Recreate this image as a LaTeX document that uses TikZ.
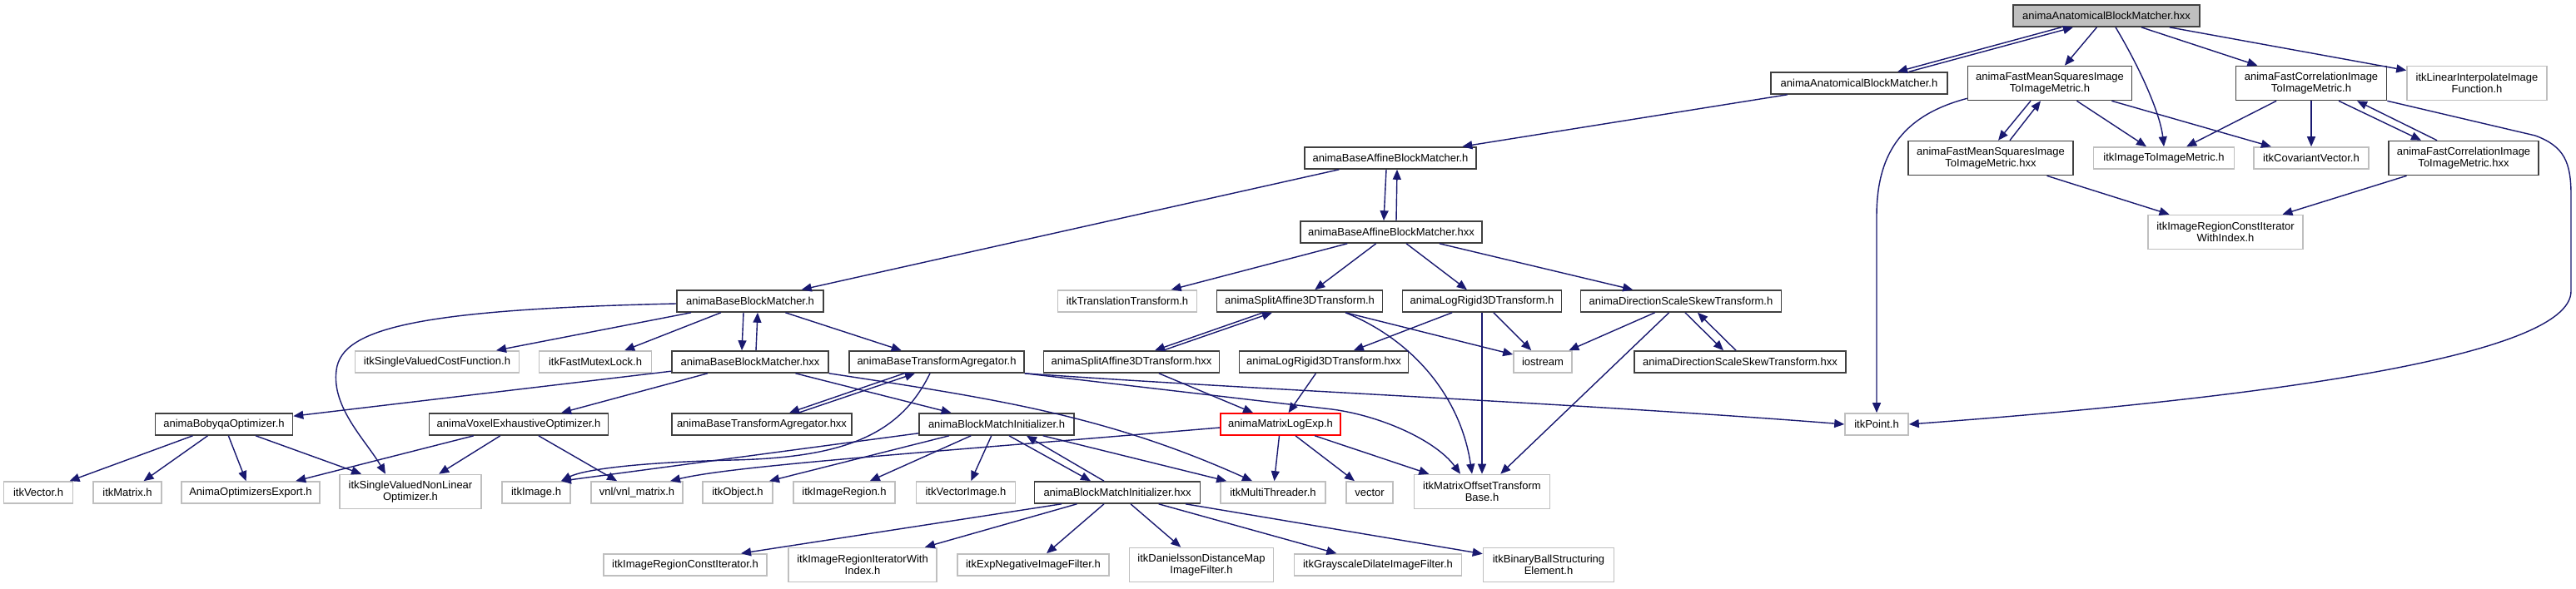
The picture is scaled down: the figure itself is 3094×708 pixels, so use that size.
\documentclass[tikz,border=0pt]{standalone}
\usepackage{fontspec}
\setmainfont{Liberation Sans}
\usetikzlibrary{arrows.meta}
\definecolor{edgec}{HTML}{191970}
\definecolor{gborder}{HTML}{BFBFBF}
\definecolor{dborder}{HTML}{404040}
\begin{document}
\begin{tikzpicture}[x=1pt,y=-1pt,
  base/.style={rectangle, inner sep=0pt, font=\fontsize{13}{14}\selectfont, align=center, line width=1.6pt},
  doc/.style={base, draw=dborder, fill=white},
  undoc/.style={base, draw=gborder, fill=white},
  trunc/.style={base, draw=red, fill=white},
  root/.style={base, draw=dborder, fill=gborder},
  sz/.style 2 args={minimum width=#1pt, minimum height=#2pt},
  dep/.style={draw=edgec, line width=1.4pt, -{Triangle[length=12pt,width=10pt]}},
]
\fill[white] (0,0) rectangle (3094,708);
\useasboundingbox (0,0) rectangle (3094,708);

% nodes
\node[root,sz={224}{26}] (T) at (2530,19) {animaAnatomicalBlockMatcher.hxx};
\node[doc,sz={212}{26}] (A) at (2233,100) {animaAnatomicalBlockMatcher.h};
\node[doc,sz={197}{41}] (FMSh) at (2462,100) {animaFastMeanSquaresImage\\ToImageMetric.h};
\node[doc,sz={181}{41}] (FCh) at (2776,100) {animaFastCorrelationImage\\ToImageMetric.h};
\node[undoc,sz={168}{41}] (LIF) at (2975,100) {itkLinearInterpolateImage\\Function.h};
\node[doc,sz={198}{41}] (FMShxx) at (2391,190) {animaFastMeanSquaresImage\\ToImageMetric.hxx};
\node[undoc,sz={169}{26}] (ITIM) at (2599,190) {itkImageToImageMetric.h};
\node[undoc,sz={138}{26}] (CV) at (2776,190) {itkCovariantVector.h};
\node[doc,sz={180}{41}] (FChxx) at (2959,190) {animaFastCorrelationImage\\ToImageMetric.hxx};
\node[undoc,sz={186}{41}] (IRCIWI) at (2673,279) {itkImageRegionConstIterator\\WithIndex.h};
\node[doc,sz={206}{26}] (BAh) at (1670,190) {animaBaseAffineBlockMatcher.h};
\node[doc,sz={218}{26}] (BAhxx) at (1671,279) {animaBaseAffineBlockMatcher.hxx};
\node[doc,sz={176}{26}] (BBh) at (901,362) {animaBaseBlockMatcher.h};
\node[undoc,sz={167}{26}] (TT) at (1354,362) {itkTranslationTransform.h};
\node[doc,sz={199}{26}] (SAh) at (1561,362) {animaSplitAffine3DTransform.h};
\node[doc,sz={191}{26}] (LRh) at (1780,362) {animaLogRigid3DTransform.h};
\node[doc,sz={241}{26}] (DSSh) at (2019,362) {animaDirectionScaleSkewTransform.h};
\node[undoc,sz={197}{26}] (SCF) at (525,435) {itkSingleValuedCostFunction.h};
\node[undoc,sz={135}{26}] (FML) at (715,435) {itkFastMutexLock.h};
\node[doc,sz={188}{26}] (BBhxx) at (901,435) {animaBaseBlockMatcher.hxx};
\node[doc,sz={210}{26}] (BTAh) at (1125,435) {animaBaseTransformAgregator.h};
\node[doc,sz={211}{26}] (SAhxx) at (1359,435) {animaSplitAffine3DTransform.hxx};
\node[doc,sz={203}{26}] (LRhxx) at (1590,435) {animaLogRigid3DTransform.hxx};
\node[undoc,sz={70}{26}] (IOS) at (1853,435) {iostream};
\node[doc,sz={254}{26}] (DSShxx) at (2090,435) {animaDirectionScaleSkewTransform.hxx};
\node[doc,sz={165}{26}] (BOh) at (269,510) {animaBobyqaOptimizer.h};
\node[doc,sz={215}{26}] (VEOh) at (623,510) {animaVoxelExhaustiveOptimizer.h};
\node[doc,sz={216}{26}] (BTAhxx) at (915,510) {animaBaseTransformAgregator.hxx};
\node[doc,sz={186}{26}] (BMIh) at (1197,510) {animaBlockMatchInitializer.h};
\node[trunc,sz={144}{26}] (MLE) at (1538,510) {animaMatrixLogExp.h};
\node[undoc,sz={76}{26}] (ITP) at (2254,510) {itkPoint.h};
\node[undoc,sz={83}{26}] (VEC) at (46,592) {itkVector.h};
\node[undoc,sz={82}{26}] (MAT) at (153,592) {itkMatrix.h};
\node[undoc,sz={166}{26}] (AOE) at (301,592) {AnimaOptimizersExport.h};
\node[undoc,sz={170}{41}] (SVNLO) at (493,591) {itkSingleValuedNonLinear\\Optimizer.h};
\node[undoc,sz={82}{26}] (IMG) at (644,592) {itkImage.h};
\node[undoc,sz={110}{26}] (VNL) at (765,592) {vnl/vnl\_matrix.h};
\node[undoc,sz={84}{26}] (OBJ) at (886,592) {itkObject.h};
\node[undoc,sz={122}{26}] (IR) at (1014,592) {itkImageRegion.h};
\node[undoc,sz={119}{26}] (VI) at (1160,592) {itkVectorImage.h};
\node[doc,sz={199}{26}] (BMIhxx) at (1342,592) {animaBlockMatchInitializer.hxx};
\node[undoc,sz={126}{26}] (MT) at (1529,592) {itkMultiThreader.h};
\node[undoc,sz={56}{26}] (VECT) at (1645,592) {vector};
\node[undoc,sz={163}{41}] (MOTB) at (1780,591) {itkMatrixOffsetTransform\\Base.h};
\node[undoc,sz={196}{26}] (IRCI) at (823,679) {itkImageRegionConstIterator.h};
\node[undoc,sz={178}{41}] (IRIWI) at (1036,679) {itkImageRegionIteratorWith\\Index.h};
\node[undoc,sz={182}{26}] (ENIF) at (1241,679) {itkExpNegativeImageFilter.h};
\node[undoc,sz={173}{41}] (DDMIF) at (1443,679) {itkDanielssonDistanceMap\\ImageFilter.h};
\node[undoc,sz={201}{26}] (GDIF) at (1655,679) {itkGrayscaleDilateImageFilter.h};
\node[undoc,sz={157}{41}] (BBSE) at (1860,679) {itkBinaryBallStructuring\\Element.h};

% edges from root
\draw[dep] ([xshift=-54pt]T.south) -- ([xshift=46pt]A.north);
\draw[dep] ([xshift=60pt]A.north) -- ([xshift=-40pt]T.south);
\draw[dep] (T) -- (FMSh);
\draw[dep] ([xshift=11pt]T.south) .. controls (2575,90) and (2595,140) .. (ITIM.north);
\draw[dep] (T) -- (FCh);
\draw[dep] (T) -- (LIF);

% FastMeanSquares
\draw[dep] ([xshift=-23pt]FMSh.south) -- ([xshift=9pt]FMShxx.north);
\draw[dep] ([xshift=23pt]FMShxx.north) -- ([xshift=-11pt]FMSh.south);
\draw[dep] (FMSh) -- (ITIM);
\draw[dep] (FMSh) -- (CV);
\draw[dep] ([yshift=3pt]FMSh.south west) .. controls (2280,140) and (2254,190) .. (2254,260) -- (ITP.north);
\draw[dep] (FMShxx) -- (IRCIWI);

% FastCorrelation
\draw[dep] (FCh) -- (ITIM);
\draw[dep] (FCh) -- (CV);
\draw[dep] ([xshift=33pt]FCh.south) -- ([xshift=-51pt]FChxx.north);
\draw[dep] ([xshift=-32pt]FChxx.north) -- ([xshift=55pt]FCh.south);
\draw[dep] (FCh.south east) -- (3045,163) .. controls (3080,176) and (3088,195) .. (3088,235) -- (3088,350) .. controls (3088,430) and (2700,480) .. (ITP.east);
\draw[dep] (FChxx) -- (IRCIWI);

% anatomical / base affine
\draw[dep] (A) -- (BAh);
\draw[dep] ([xshift=-5pt]BAh.south) -- ([xshift=-9pt]BAhxx.north);
\draw[dep] ([xshift=6pt]BAhxx.north) -- ([xshift=8pt]BAh.south);
\draw[dep] (BAh) -- (BBh);
\draw[dep] (BAhxx) -- (TT);
\draw[dep] (BAhxx) -- (SAh);
\draw[dep] (BAhxx) -- (LRh);
\draw[dep] (BAhxx) -- (DSSh);

% base block matcher
\draw[dep] ([xshift=-8pt]BBh.south) -- ([xshift=-10pt]BBhxx.north);
\draw[dep] ([xshift=7pt]BBhxx.north) -- ([xshift=9pt]BBh.south);
\draw[dep] (BBh) -- (BTAh);
\draw[dep] (BBh) -- (FML);
\draw[dep] (BBh) -- (SCF);
\draw[dep] ([yshift=-3pt]BBh.west) .. controls (500,372) and (410,395) .. (404,445) .. controls (398,490) and (440,530) .. ([xshift=-30pt]SVNLO.north);
\draw[dep] (BBhxx) -- (BOh);
\draw[dep] (BBhxx) -- (VEOh);
\draw[dep] (BBhxx) -- (BMIh);
\draw[dep] (BBhxx.south east) .. controls (1200,480) and (1330,500) .. ([xshift=-25pt]MT.north);

% transform agregator
\draw[dep] ([xshift=-39pt]BTAh.south) -- ([xshift=33pt]BTAhxx.north);
\draw[dep] ([xshift=44pt]BTAhxx.north) -- ([xshift=-26pt]BTAh.south);
\draw[dep] ([xshift=-8pt]BTAh.south) .. controls (1080,525) and (1010,550) .. (880,553) .. controls (760,556) and (700,565) .. ([xshift=30pt]IMG.north);
\draw[dep] (BTAh.south east) .. controls (1500,468) and (1900,485) .. (ITP.west);
\draw[dep] (BTAh.south east) -- (1600,492) .. controls (1660,500) and (1725,530) .. ([xshift=-26pt]MOTB.north);

% block match initializer
\draw[dep] ([yshift=3pt]BMIh.south west) -- ([xshift=30pt]IMG.north);
\draw[dep] ([xshift=-57pt]BMIh.south) -- ([xshift=38pt]OBJ.north);
\draw[dep] (BMIh) -- (IR);
\draw[dep] (BMIh) -- (VI);
\draw[dep] ([xshift=15pt]BMIh.south) -- ([xshift=-32pt]BMIhxx.north);
\draw[dep] ([xshift=-16pt]BMIhxx.north) -- ([xshift=36pt]BMIh.south);
\draw[dep] (BMIh) -- (MT);

% matrix log exp
\draw[dep] ([yshift=-4pt]MLE.west) .. controls (1100,545) and (880,560) .. ([xshift=40pt]VNL.north);
\draw[dep] (MLE) -- (MT);
\draw[dep] (MLE) -- (VECT);
\draw[dep] (MLE) -- (MOTB);

% split affine
\draw[dep] ([xshift=-44pt]SAh.south) -- ([xshift=28pt]SAhxx.north);
\draw[dep] ([xshift=38pt]SAhxx.north) -- ([xshift=-33pt]SAh.south);
\draw[dep] (SAh) -- (IOS);
\draw[dep] ([xshift=55pt]SAh.south) .. controls (1700,410) and (1755,480) .. ([xshift=-12pt]MOTB.north);
\draw[dep] (SAhxx) -- (MLE);

% log rigid
\draw[dep] (LRh) -- (LRhxx);
\draw[dep] (LRh) -- (IOS);
\draw[dep] (LRh) -- (MOTB);
\draw[dep] (LRhxx) -- (MLE);

% direction scale skew
\draw[dep] (DSSh) -- (IOS);
\draw[dep] (DSSh) -- (MOTB);
\draw[dep] ([xshift=5pt]DSSh.south) -- ([xshift=-20pt]DSShxx.north);
\draw[dep] ([xshift=-5pt]DSShxx.north) -- ([xshift=20pt]DSSh.south);

% optimizers
\draw[dep] (VEOh) -- (AOE);
\draw[dep] (VEOh) -- (SVNLO);
\draw[dep] (VEOh) -- (VNL);
\draw[dep] (BOh) -- (VEC);
\draw[dep] (BOh) -- (MAT);
\draw[dep] (BOh) -- (AOE);
\draw[dep] (BOh) -- (SVNLO);

% block match initializer hxx
\draw[dep] ([xshift=-67pt]BMIhxx.south) -- ([xshift=67pt]IRCI.north);
\draw[dep] (BMIhxx) -- (IRIWI);
\draw[dep] (BMIhxx) -- (ENIF);
\draw[dep] (BMIhxx) -- (DDMIF);
\draw[dep] (BMIhxx) -- (GDIF);
\draw[dep] (BMIhxx) -- (BBSE);
\end{tikzpicture}
\end{document}
